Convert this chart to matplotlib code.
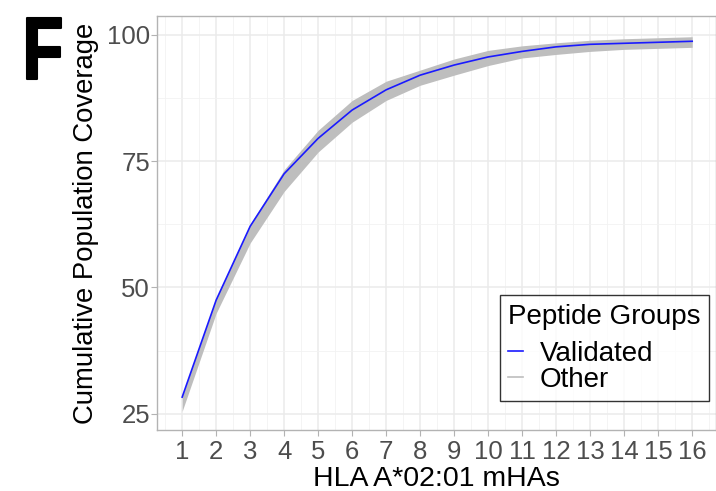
import numpy as np
import matplotlib.pyplot as plt
from matplotlib.lines import Line2D
from matplotlib.textpath import TextPath
from matplotlib.patches import PathPatch
from matplotlib.font_manager import FontProperties
from matplotlib.transforms import Affine2D

plt.rcParams['font.family'] = ['Liberation Sans', 'DejaVu Sans']

n_mhas = np.arange(1, 17)
validated = [28.3, 47.5, 62.1, 72.5, 79.5, 85.1, 89.1, 92.0, 94.0, 95.6,
             96.7, 97.6, 98.1, 98.3, 98.5, 98.7]
other_low = [25.5, 44.9, 58.8, 69.0, 76.8, 82.7, 87.0, 90.0, 92.0, 93.9,
             95.4, 96.1, 96.7, 97.1, 97.3, 97.5]
other_high = [28.5, 47.8, 62.5, 73.3, 81.1, 87.0, 90.8, 93.0, 95.2, 96.9,
              97.8, 98.4, 98.9, 99.2, 99.4, 99.6]

W, H = 716, 491
fig = plt.figure(figsize=(W / 100, H / 100), dpi=100)
ax = fig.add_axes([157 / W, 1 - 430 / H, (W - 157) / W, (430 - 16) / H])

ax.fill_between(n_mhas, other_low, other_high, color='#BEBEBE', lw=0, zorder=2)
ax.plot(n_mhas, validated, color='#1A1AFF', lw=1.2, zorder=3)

ax.set_xlim(0.26, 16.7)
ax.set_ylim(21.8, 103.7)
ax.set_xticks(n_mhas)
ax.set_xticks(np.arange(0.5, 17, 1), minor=True)
ax.set_yticks([25, 50, 75, 100])
ax.set_yticks([37.5, 62.5, 87.5], minor=True)
ax.grid(which='major', color='#EBEBEB', lw=1.1, zorder=0)
ax.grid(which='minor', color='#F2F2F2', lw=0.6, zorder=0)
ax.set_axisbelow(True)

for s in ax.spines.values():
    s.set_color('#B3B3B3')
    s.set_linewidth(1)
ax.tick_params(axis='both', which='major', labelsize=18.5, labelcolor='#4D4D4D',
               color='#B3B3B3', length=4)
ax.tick_params(axis='x', pad=3)
ax.tick_params(axis='y', pad=1)
ax.tick_params(which='minor', length=0)

ax.set_xlabel('HLA A*02:01 mHAs', fontsize=20.5, labelpad=2)
ax.set_ylabel('Cumulative Population Coverage', fontsize=19.8, labelpad=6)

handles = [Line2D([], [], color='#1A1AFF', lw=1.2),
           Line2D([], [], color='#BEBEBE', lw=1.2)]
leg = ax.legend(handles, ['Validated', 'Other'], title='Peptide Groups',
                loc='lower right', bbox_to_anchor=(1 - 7 / 559, (430 - 401) / 414),
                fontsize=20, title_fontsize=20, frameon=True, fancybox=False,
                handlelength=0.55, handletextpad=0.6, labelspacing=0.0,
                borderpad=0.3, borderaxespad=0, alignment='left')
leg.get_frame().set_edgecolor('black')
leg.get_frame().set_linewidth(1)
leg._legend_box.sep = 8

# panel letter, squeezed into the box it fills in the original (pixels)
tp = TextPath((0, 0), 'F', size=100, prop=FontProperties(family='Liberation Sans', weight='bold'))
ext = tp.get_extents()
x0, x1, y0, y1 = 27, 61, H - 79, H - 18
tr = (Affine2D().translate(-ext.x0, -ext.y0)
      .scale((x1 - x0) / ext.width, (y1 - y0) / ext.height)
      .translate(x0, y0))
fig.add_artist(PathPatch(tr.transform_path(tp), facecolor='black', edgecolor='black',
                         lw=1.5, joinstyle='round', transform=None))

fig.savefig('out.png', dpi=100)
